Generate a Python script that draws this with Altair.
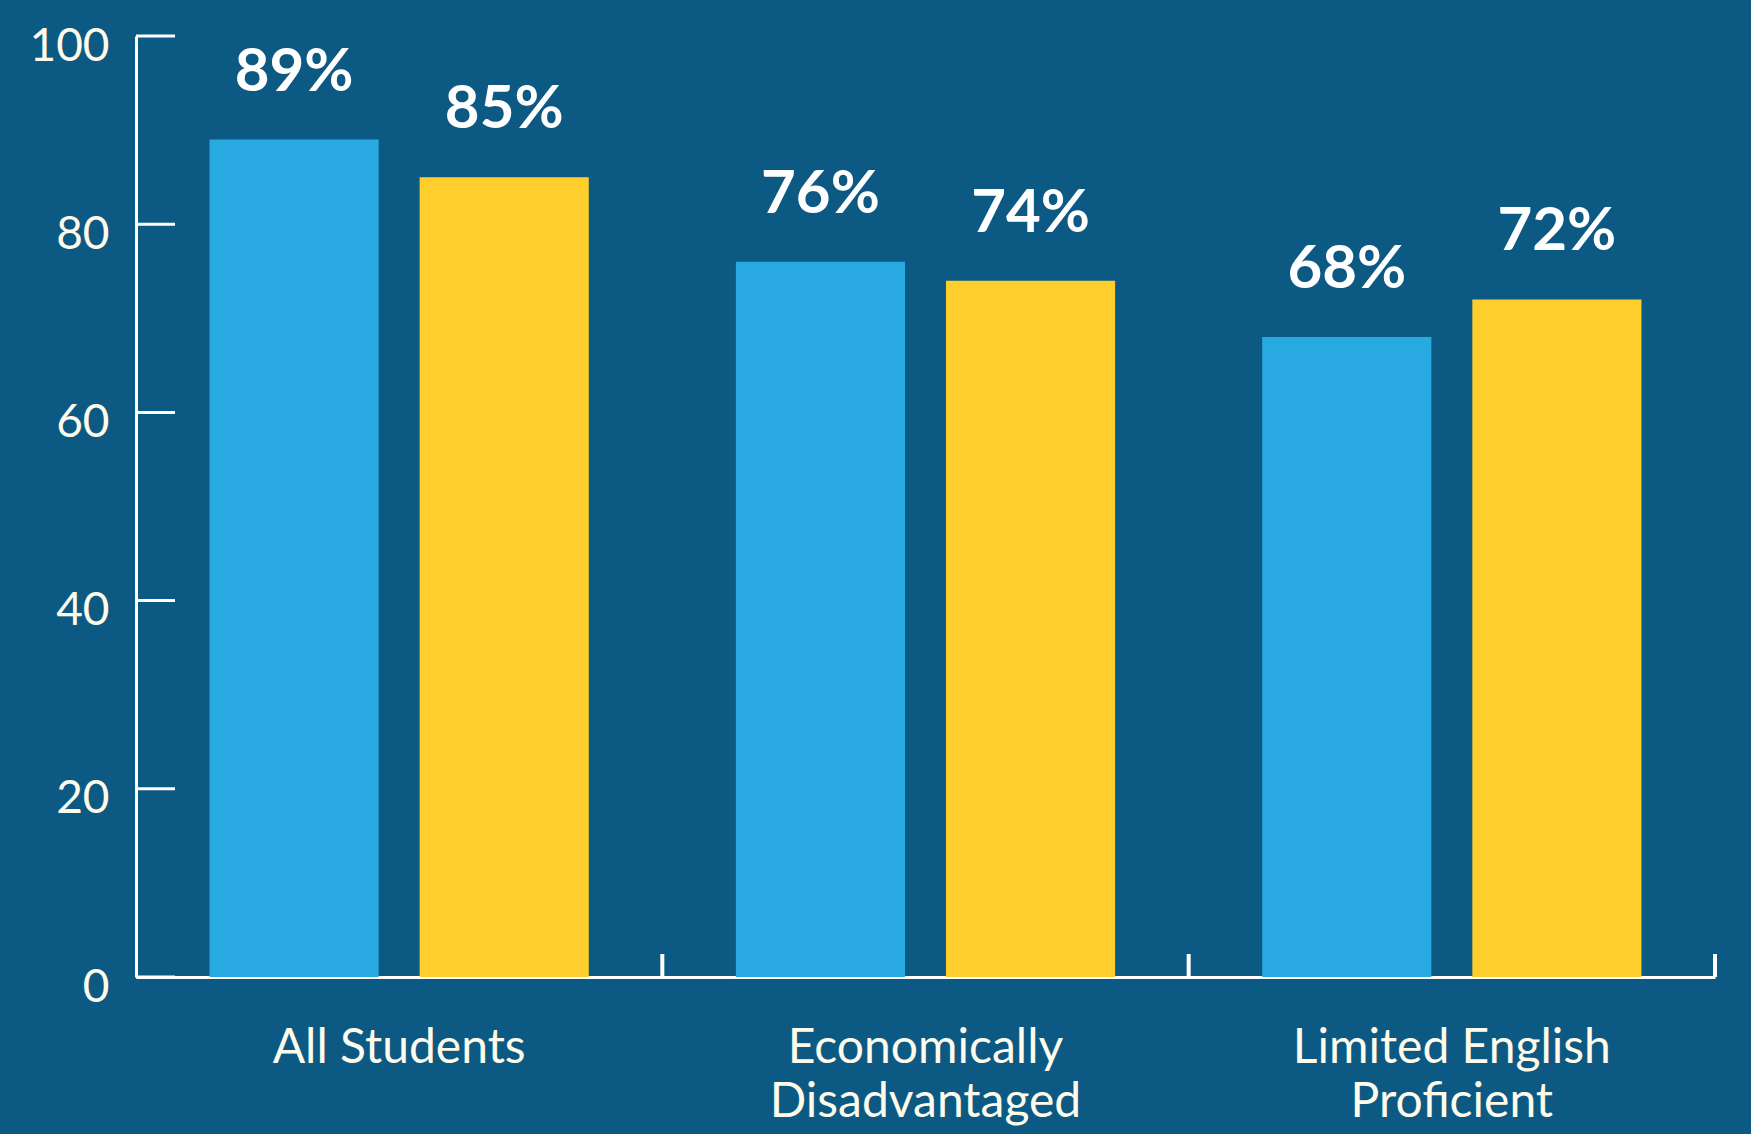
import altair as alt
import pandas as pd

groups = ["All Students", "Economically Disadvantaged", "Limited English Proficient"]
series = ["Series 1", "Series 2"]
values_s1 = [89, 76, 68]
values_s2 = [85, 74, 72]
y_ticks = [0, 20, 40, 60, 80, 100]
colors = ["#29A9E1", "#FECE2D"]

rows = []
for g, a, b in zip(groups, values_s1, values_s2):
    rows.append({"group": g, "series": series[0], "value": a, "label": f"{a}%"})
    rows.append({"group": g, "series": series[1], "value": b, "label": f"{b}%"})
df = pd.DataFrame(rows)
ticks_df = pd.DataFrame({"value": y_ticks})
sep_df = pd.DataFrame({"group": groups})

W, H = 1579, 941
FONT = "Lato"
CREAM = "#FFFBEA"

xscale = alt.Scale(domain=groups, paddingInner=0, paddingOuter=0)
yscale = alt.Scale(domain=[0, 100], nice=False, zero=True)

label_expr = ("datum.value == 'Economically Disadvantaged' ? ['Economically', 'Disadvantaged'] : "
              "datum.value == 'Limited English Proficient' ? ['Limited English', 'Proficient'] : datum.label")

x_axis = alt.Axis(orient="bottom", domain=True, domainColor="white", domainWidth=3,
                  ticks=False, grid=False, labelAngle=0, labelFont=FONT,
                  labelFontSize=48, labelColor=CREAM, labelPadding=47,
                  labelLineHeight=54, labelExpr=label_expr, labelLimit=800)
y_axis = alt.Axis(orient="left", domain=True, domainColor="white", domainWidth=3,
                  ticks=False, grid=False, values=y_ticks, labelFont=FONT,
                  labelFontSize=46, labelColor=CREAM, labelPadding=27,
                  labelOffset=10)

xoff = alt.XOffset("series:N", sort=series,
                   scale=alt.Scale(domain=series, paddingInner=0.195, paddingOuter=0.35))

bars = alt.Chart(df).mark_bar().encode(
    x=alt.X("group:N", sort=groups, scale=xscale, title=None, axis=x_axis),
    xOffset=xoff,
    y=alt.Y("value:Q", scale=yscale, title=None, axis=y_axis),
    color=alt.Color("series:N", sort=series, scale=alt.Scale(domain=series, range=colors), legend=None),
)

texts = alt.Chart(df).mark_text(dy=-49, baseline="alphabetic", fontSize=60, fontWeight="bold",
                                color="white", font=FONT).encode(
    x=alt.X("group:N", sort=groups, title=None),
    xOffset=xoff,
    y=alt.Y("value:Q", title=None),
    text="label:N",
)

yticks = alt.Chart(ticks_df).mark_rule(color="white", strokeWidth=3).encode(
    y=alt.Y("value:Q", title=None),
    x=alt.value(0),
    x2=alt.value(39),
)

seps = alt.Chart(sep_df).mark_rule(color="white", strokeWidth=4).encode(
    x=alt.X("group:N", sort=groups, title=None, bandPosition=1),
    y=alt.value(H),
    y2=alt.value(H - 23),
)

chart = alt.layer(bars, texts, yticks, seps).properties(
    width=W, height=H,
    padding={"left": 136, "top": 36, "right": 36, "bottom": 157},
    autosize=alt.AutoSizeParams(type="none"),
    background="#0C5A84",
).configure_view(stroke=None)

chart.save("out.html", embed_options={"renderer": "svg", "actions": False})
